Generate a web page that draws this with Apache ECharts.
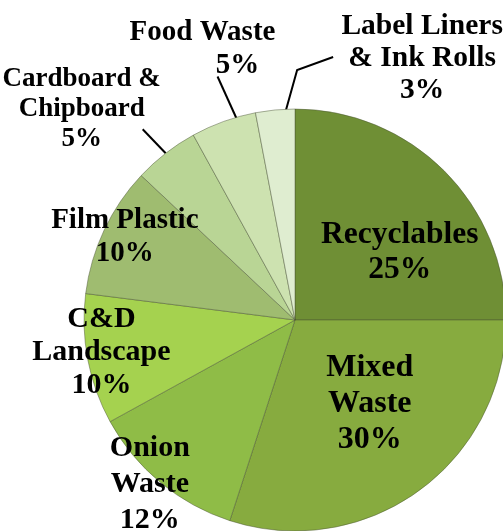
<!DOCTYPE html>
<html>
<head>
<meta charset="utf-8">
<script src="https://cdn.jsdelivr.net/npm/echarts@6/dist/echarts.min.js"></script>
<style>
html,body{margin:0;padding:0;background:#fff;}
#chart{width:503px;height:531px;}
</style>
</head>
<body>
<div id="chart"></div>
<script>
// ---- data ----
const categories = ['Recyclables', 'Mixed Waste', 'Onion Waste', 'C&D Landscape', 'Film Plastic', 'Cardboard & Chipboard', 'Food Waste', 'Label Liners & Ink Rolls'];
const values = [25, 30, 12, 10, 10, 5, 5, 3];
const labelTexts = ['Recyclables', 'Mixed\nWaste', 'Onion\nWaste', 'C&D\nLandscape', 'Film Plastic', 'Cardboard &\nChipboard', 'Food Waste', 'Label Liners\n& Ink Rolls'];

// ---- styles / layout ----
const colors = ['#6f8f35', '#87ab3f', '#8fbc47', '#a5d24f', '#9fbc70', '#b9d595', '#cde2b0', '#dfedd0'];
const fontSizes = [31.5, 32, 30, 30, 29, 27, 29, 29.5];
const lineHeights = [35, 36, 36, 33, 33, 30, 33, 32];
const outside = [false, false, false, false, false, true, true, true];
const insideShift = [[28, 9], [11, -4], [-76, 81], [-87, 12], [-72, -37]];
// outside: label centre and leader-line points relative to the library anchor
const outsideLayout = {
  5: { label: [-84, -44], line: [[0, 0], [-23, -24]] },
  6: { label: [-21, -72], line: [[13, -3], [-6, -45]] },
  7: { label: [147, -52], line: [[10, 3], [22, -40], [58, -53]] }
};

const chart = echarts.init(document.getElementById('chart'));
const data = categories.map((c, i) => {
  const item = { name: c, value: values[i], itemStyle: { color: colors[i] } };
  item.label = { fontSize: fontSizes[i], lineHeight: lineHeights[i] };
  if (outside[i]) {
    item.label.position = 'outside';
    item.labelLine = { show: true, length: 20, length2: 10 };
  } else {
    item.label.position = 'inside';
    item.labelLine = { show: false };
  }
  return item;
});

chart.setOption({
  animation: false,
  series: [{
    type: 'pie',
    center: [295, 320],
    radius: 211,
    startAngle: 90,
    clockwise: true,
    avoidLabelOverlap: false,
    data: data,
    itemStyle: { borderColor: 'rgba(70,80,50,0.45)', borderWidth: 1 },
    label: {
      show: true,
      fontFamily: 'Liberation Serif',
      fontWeight: 'bold',
      color: '#000',
      align: 'center',
      formatter: function (p) {
        if (p.dataIndex === 6) return labelTexts[p.dataIndex] + '\n{pad|' + p.value + '%}';
        return labelTexts[p.dataIndex] + '\n' + p.value + '%';
      },
      rich: { pad: { padding: [0, 0, 0, 70], fontFamily: 'Liberation Serif', fontWeight: 'bold', fontSize: 29, lineHeight: 33, color: '#000' } }
    },
    labelLine: { lineStyle: { color: '#000', width: 2 } },
    labelLayout: function (p) {
      const i = p.dataIndex;
      if (!outside[i]) {
        return { dx: insideShift[i][0], dy: insideShift[i][1] };
      }
      const a = p.labelLinePoints[0];
      const o = outsideLayout[i];
      return {
        x: a[0] + o.label[0],
        y: a[1] + o.label[1],
        align: 'center',
        verticalAlign: 'middle',
        labelLinePoints: o.line.map(d => [a[0] + d[0], a[1] + d[1]])
      };
    }
  }]
});
</script>
</body>
</html>
